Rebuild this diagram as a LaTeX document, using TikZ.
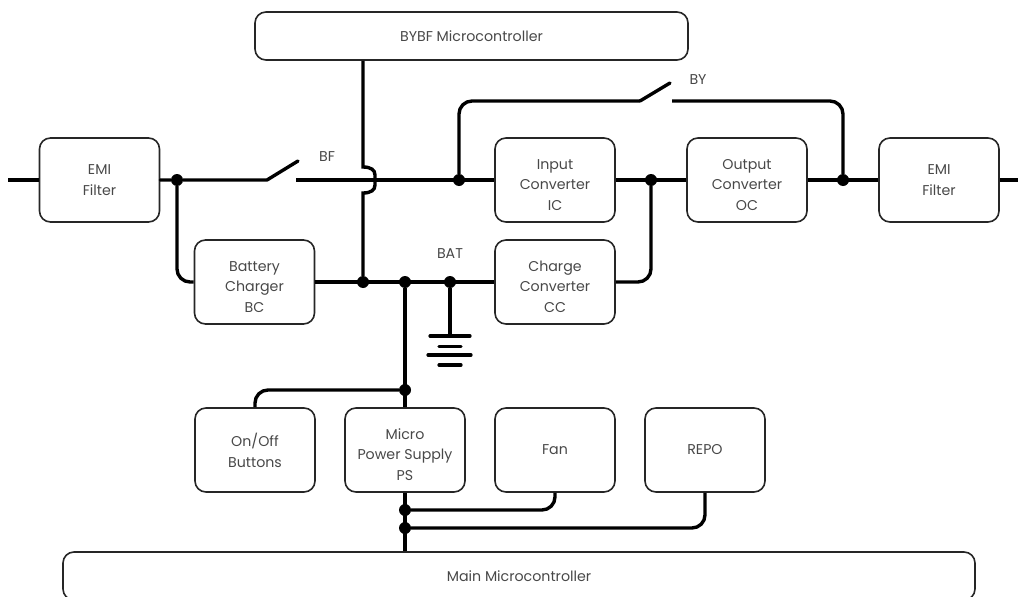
\documentclass[tikz,border=0pt]{standalone}
\usepackage{fontspec}
\setmainfont{Poppins}
\usetikzlibrary{calc}
\definecolor{txt}{HTML}{484848}
\definecolor{edge}{HTML}{262626}
\newcommand{\lowr}{\rule{0pt}{20pt}}
\tikzset{
  x=1pt,y=-1pt,
  blk/.style={draw=edge,line width=1.6pt,rounded corners=11pt,align=center,inner sep=0pt,
    text=txt,font=\fontsize{14.2}{20.8}\selectfont,minimum width=#1,minimum height=84pt},
  blk/.default=120pt,
  wide/.style={blk=#1,minimum height=48pt},
  wire/.style={line width=3.4pt,black,rounded corners=13pt},
  sw/.style={line width=3.4pt,black,line join=round,line cap=round},
  bar/.style={line width=3.2pt,black,line cap=round},
  dot/.style={circle,fill=black,inner sep=0pt,minimum size=12pt},
  lbl/.style={text=txt,font=\fontsize{14.2}{16}\selectfont,inner sep=0pt},
}
\begin{document}
\begin{tikzpicture}
\useasboundingbox (0,0) rectangle (1018,597);
\clip (0,0) rectangle (1018,597);
% blocks
\node[wide=433pt] (bybf) at (471.5,36) {BYBF Microcontroller};
\node[blk] (emiL) at (99.5,180) {EMI\\Filter};
\node[blk] (bc) at (254.5,282) {\lowr Battery\\Charger\\BC};
\node[blk] (ic) at (555,180) {\lowr Input\\Converter\\IC};
\node[blk] (cc) at (555,282) {\lowr Charge\\Converter\\CC};
\node[blk] (oc) at (747,180) {\lowr Output\\Converter\\OC};
\node[blk] (emiR) at (939,180) {EMI\\Filter};
\node[blk] (onoff) at (255,450) {On/Off\\Buttons};
\node[blk] (ps) at (405,450) {\lowr Micro\\Power Supply\\PS};
\node[blk] (fan) at (555,450) {Fan};
\node[blk] (repo) at (705,450) {REPO};
\node[wide=912pt] (main) at (519,576) {Main Microcontroller};
% labels
\node[lbl] (bf) at (327,157) {BF};
\node[lbl] (by) at (698,80) {BY};
\node[lbl] (bat) at (450,254) {BAT};
% junctions
\node[dot] (j1) at (177,180) {};
\node[dot] (j2) at (459,180) {};
\node[dot] (j3) at (651,180) {};
\node[dot] (j4) at (843,180) {};
\node[dot] (j5) at (363,282) {};
\node[dot] (j6) at (405,282) {};
\node[dot] (j7) at (450,282) {};
\node[dot] (j8) at (405,390) {};
\node[dot] (j9) at (405,510) {};
\node[dot] (j10) at (405,528) {};
% free ends
\coordinate (inL) at (8,180);
\coordinate (outR) at (1018,180);
\coordinate (bfa) at (267,180);
\coordinate (bfb) at (298,161);
\coordinate (bfc) at (296,180);
\coordinate (bya) at (640,101);
\coordinate (byb) at (670,83);
\coordinate (byc) at (672,101);
\coordinate (g1) at (450,336);
% main line
\draw[wire] (inL) -- (emiL.west);
\draw[sw] (emiL.east) -- (j1) -- (bfa) -- (bfb);
\draw[wire] (bfc) -- (ic.west);
\draw[wire] (ic.east) -- (oc.west);
\draw[wire] (oc.east) -- (emiR.west);
\draw[wire] (emiR.east) -- (outR);
% bypass
\draw[wire] (j2) |- (bya);
\draw[sw] (bya) -- (byb);
\draw[wire] (byc) -| (j4);
% battery charger and charge converter
\draw[wire] (j1) |- (bc.west);
\draw[wire] (j3) |- (cc.east);
\draw[wire] (bc.east) -- (cc.west);
% microcontroller line with jump
\draw[line width=3.4pt] (bybf.south -| j5) -- (363,167)
  .. controls (371,167) and (375,170) .. (375,175) -- (375,185)
  .. controls (375,190) and (371,193) .. (363,193) -- (j5);
% battery tap
\draw[wire] (j6) -- (ps.north);
\draw[wire] (j8) -| (onoff.north);
% ground
\draw[wire] (j7) -- (g1);
\draw[bar] (430,336) -- (470,336);
\draw[bar] (439,346.5) -- (461,346.5);
\draw[bar] (428,355) -- (471,355);
\draw[bar] (439,365) -- (461,365);
% supply
\draw[wire] (ps.south) -- (main.north -| ps.south);
\draw[wire] (j9) -| (fan.south);
\draw[wire] (j10) -| (repo.south);
\end{tikzpicture}
\end{document}
